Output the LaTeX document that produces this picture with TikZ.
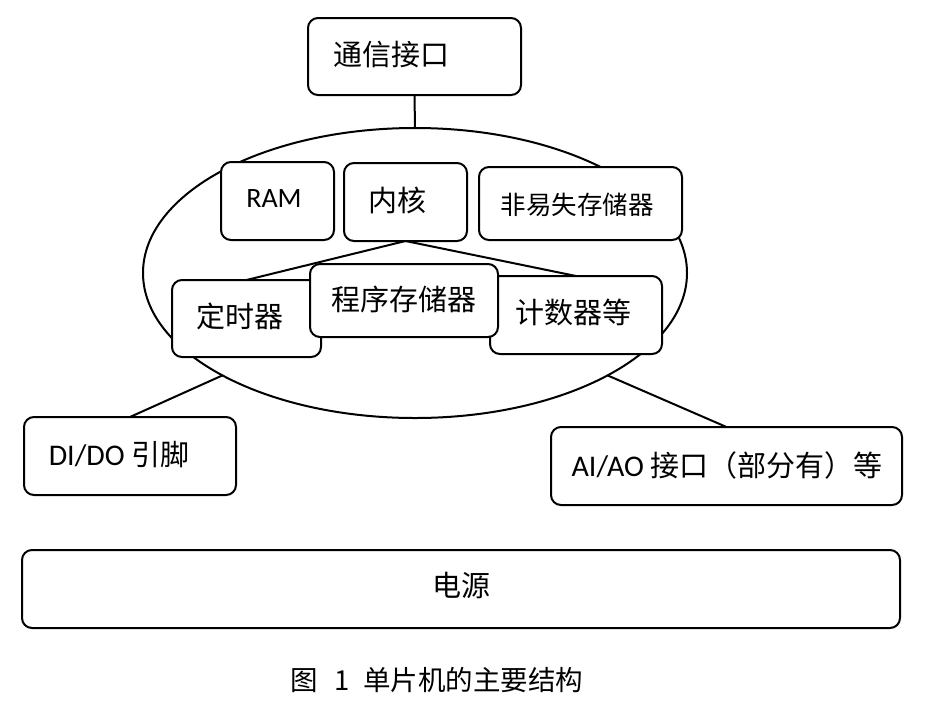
\documentclass[tikz,border=0pt]{standalone}
\usepackage{fontspec}
\usetikzlibrary{shapes.geometric}
\newfontfamily\cjk{Noto Sans CJK SC}
\newfontfamily\lat{Carlito}
\tikzset{
  box/.style={draw, line width=2pt, rounded corners=10pt, fill=white, inner sep=0pt, outer sep=0pt},
  conn/.style={line width=2pt},
  txt/.style={inner sep=0pt, font=\fontsize{29}{32}\selectfont\cjk},
}
\begin{document}
\begin{tikzpicture}[x=1pt,y=-1pt]
\useasboundingbox (0,0) rectangle (926,710);
% ellipse (chip)
\node[draw, ellipse, line width=2pt, minimum width=544pt, minimum height=290pt, inner sep=0pt, outer sep=0pt] (ell) at (415,273) {};
% boxes
\node[box, minimum width=213pt, minimum height=77pt] (comm) at (414.5,56.5) {};
\draw[conn] (comm.south) -- (ell.north);
\node[box, minimum width=113pt, minimum height=78pt] (ram) at (277.5,201) {};
\node[box, minimum width=123pt, minimum height=78pt] (kernel) at (405.5,202) {};
\node[box, minimum width=203pt, minimum height=73pt] (nvm) at (580.5,203.5) {};
\node[box, minimum width=149pt, minimum height=77pt] (timer) at (246.5,318.5) {};
\node[box, minimum width=172pt, minimum height=78pt] (counter) at (576,315) {};
\draw[conn] (kernel.south) -- (timer.north);
\draw[conn] (kernel.south) -- (counter.north);
\node[box, minimum width=188pt, minimum height=73pt] (prog) at (404,300.5) {};
\node[box, minimum width=212pt, minimum height=78pt] (dido) at (130,456) {};
\node[box, minimum width=351pt, minimum height=78pt] (aiao) at (726.5,466) {};
\node[box, minimum width=878pt, minimum height=78pt] (power) at (461,589) {};
\draw[conn] (ell.-152) -- (dido.north);
\draw[conn] (ell.-28) -- (aiao.north);
% texts
\node[txt] (tcomm) at (391,55) {通信接口};
\node[txt, font=\fontsize{28}{30}\selectfont\lat] (tram) at (274,199) {RAM};
\node[txt] (tkernel) at (397,200) {内核};
\node[txt, font=\fontsize{25.5}{28}\selectfont\cjk] (tnvm) at (577,205) {非易失存储器};
\node[txt] (ttimer) at (240,316) {定时器};
\node[txt] (tprog) at (404,299) {程序存储器};
\node[txt] (tcounter) at (573,312) {计数器等};
\node[txt] (tdido) at (119,455) {{\fontsize{30}{32}\selectfont\lat DI/DO} 引脚};
\node[txt] (taiao) at (727,465) {{\fontsize{30}{32}\selectfont\lat AI/AO} 接口（部分有）等};
\node[txt] (tpower) at (461,585) {电源};
\node[txt, font=\fontsize{27.5}{30}\selectfont\cjk] (cap) at (437,680) {图\hspace{16pt}1\hspace{14pt}单片机的主要结构};
\end{tikzpicture}
\end{document}
